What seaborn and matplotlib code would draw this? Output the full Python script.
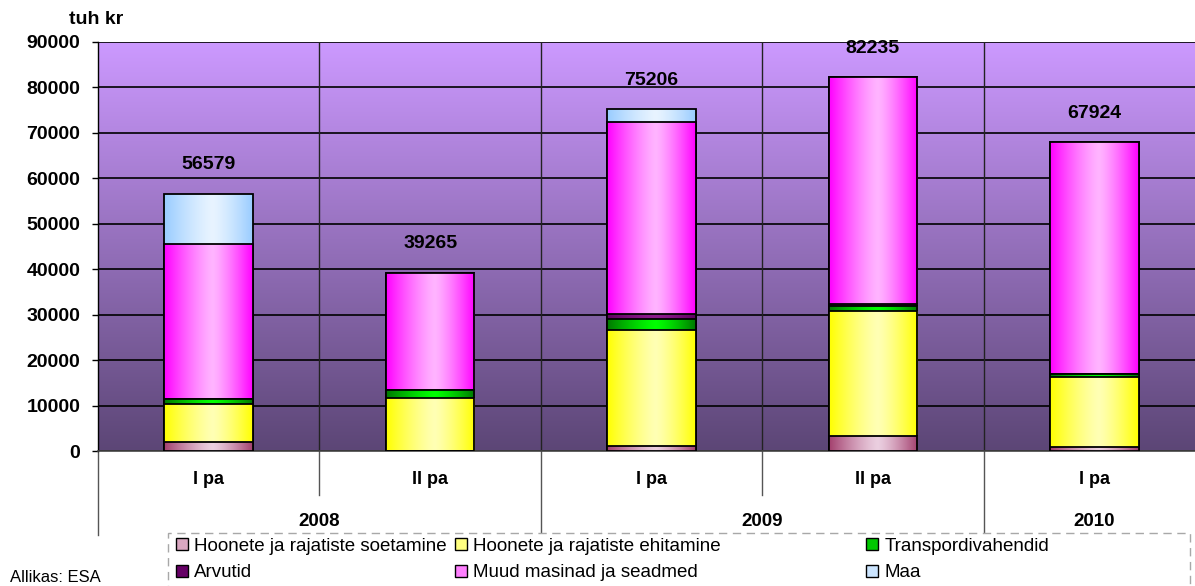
import numpy as np
import pandas as pd
import matplotlib
matplotlib.use("Agg")
import matplotlib.pyplot as plt
import matplotlib.transforms as mtrans
from matplotlib.colors import to_rgb
from matplotlib.patches import Patch, Rectangle
import seaborn as sns

# ---------------- data ----------------
periods = ["I pa", "II pa", "I pa", "II pa", "I pa"]
years = ["2008", "2008", "2009", "2009", "2010"]
categories = [f"{y} {p}" for y, p in zip(years, periods)]
totals = [56579, 39265, 75206, 82235, 67924]

series_names = ["Hoonete ja rajatiste soetamine", "Hoonete ja rajatiste ehitamine",
                "Transpordivahendid", "Arvutid", "Muud masinad ja seadmed", "Maa"]
soetamine = [1900, 0, 1200, 3300, 800]
ehitamine = [8400, 11600, 25400, 27500, 15500]
transport = [1100, 1800, 2450, 1200, 600]
arvutid = [100, 0, 1100, 400, 100]
muud = [34000, 25865, 42250, 49835, 50924]
maa = [11079, 0, 2806, 0, 0]
series_values = [soetamine, ehitamine, transport, arvutid, muud, maa]

# (edge colour, centre highlight colour)
series_colors = [("#A3406E", "#EBCFE0"),
                 ("#FFFF00", "#FFFFB4"),
                 ("#007800", "#00FF00"),
                 ("#600060", "#8C1C8C"),
                 ("#FF00FF", "#FFB4FF"),
                 ("#99CCFF", "#E8F4FF")]
legend_colors = ["#D9A7C1", "#FFFF80", "#00C800", "#660066", "#FF80FF", "#CCE5FF"]

y_ticks = list(range(0, 90001, 10000))

# ---------------- figure ----------------
W, H = 1195, 586
fig = plt.figure(figsize=(W / 100, H / 100), dpi=100)
fig.patch.set_facecolor("white")
ax_l, ax_r, ax_t, ax_b = 98, 1205, 42, 451
ax = fig.add_axes([ax_l / W, 1 - ax_b / H, (ax_r - ax_l) / W, (ax_b - ax_t) / H])
ax_h = ax_b - ax_t

plt.rcParams["font.family"] = ["Liberation Sans", "DejaVu Sans"]
FONT = ["Liberation Sans", "DejaVu Sans"]

# background gradient
top_c = np.array(to_rgb("#CC99FF"))
bot_c = np.array(to_rgb("#5C4676"))
t = np.linspace(0, 1, 256)[:, None]
bg = (top_c * (1 - t) + bot_c * t)[:, None, :]
ax.imshow(bg, extent=[0, 1, 0, 1], transform=ax.transAxes, aspect="auto",
          zorder=0, interpolation="bicubic")

# grid
for v in y_ticks:
    ax.axhline(v, color="black", lw=1.2, zorder=1)
for b in [0.5, 1.5, 2.5, 3.5]:
    ax.axvline(b, color="#222222", lw=1.0, zorder=1)

# stacked bars (cumulative, drawn from top layer down)
cum = np.cumsum(np.array(series_values, dtype=float), axis=0)
xs = np.linspace(0, 1, 200)


def grad_img(edge, centre):
    e = np.array(to_rgb(edge))
    c = np.array(to_rgb(centre))
    d = np.where(xs < 0.55, (0.55 - xs) / 0.55, (xs - 0.55) / 0.45)
    w = np.clip(d, 0, 1) ** 1.3
    row = c * (1 - w[:, None]) + e * w[:, None]
    return row[None, :, :]


for rank, k in enumerate(reversed(range(len(series_values)))):
    n0 = len(ax.patches)
    df = pd.DataFrame({"cat": categories, "val": cum[k]})
    sns.barplot(data=df, x="cat", y="val", order=categories, color=series_colors[k][0],
                width=0.4, errorbar=None, ax=ax, edgecolor="black", linewidth=1.3)
    z = 3 + rank
    img = grad_img(*series_colors[k])
    for p in ax.patches[n0:]:
        x0, y0 = p.get_x(), p.get_y()
        w_, h_ = p.get_width(), p.get_height()
        p.set_facecolor("none")
        p.set_zorder(z + 0.5)
        if h_ <= 0:
            continue
        im = ax.imshow(img, extent=[x0, x0 + w_, y0, y0 + h_], aspect="auto",
                       zorder=z, interpolation="bilinear")
        im.set_clip_path(p)

ax.set_xlim(-0.5, 4.5)
ax.set_ylim(0, 90000)

# total labels
for i, tot in enumerate(totals):
    ax.annotate(f"{tot}", (i, tot), xytext=(0, 21), textcoords="offset points",
                ha="center", va="center", fontsize=14, fontweight="bold",
                family=FONT, zorder=20)

# axes styling
ax.set_xlabel("")
ax.set_ylabel("")
ax.set_xticks([])
ax.set_yticks(y_ticks)
ax.set_yticklabels([str(v) for v in y_ticks], fontsize=14, fontweight="bold", family=FONT)
ax.tick_params(axis="y", length=4.3, width=1, color="black", pad=8.5, direction="out")
for s in ["top", "right"]:
    ax.spines[s].set_visible(False)
ax.spines["left"].set_color("black")
ax.spines["left"].set_linewidth(1.0)
ax.spines["bottom"].set_color("#444444")
ax.spines["bottom"].set_linewidth(1.2)

# category axis below
trans = mtrans.blended_transform_factory(ax.transData, ax.transAxes)
short_len = (495 - ax_b) / ax_h
long_len = (535 - ax_b) / ax_h
for b, L in [(-0.5, long_len), (0.5, short_len), (1.5, long_len), (2.5, short_len), (3.5, long_len)]:
    ax.plot([b, b], [0, -L], transform=trans, color="#555555", lw=1.0, clip_on=False)
for i, p in enumerate(periods):
    ax.text(i, -(480 - ax_b) / ax_h, p, transform=trans, ha="center", va="center",
            fontsize=13, fontweight="bold", family=FONT)
year_pos = {"2008": 0.5, "2009": 2.5, "2010": 4.0}
for yname, xp in year_pos.items():
    ax.text(xp, -(522 - ax_b) / ax_h, yname, transform=trans, ha="center", va="center",
            fontsize=13.5, fontweight="bold", family=FONT)

# unit label
fig.text(96 / W, 1 - 20 / H, "tuh kr", ha="center", va="center", fontsize=14,
         fontweight="bold", family=FONT)

# source text
fig.text(10 / W, 1 / H, "Allikas: ESA", ha="left", va="bottom", fontsize=12, family=FONT)

# legend frame
fig.patches.append(Rectangle((168 / W, -0.1), (1190 - 168) / W, 0.1 + 1 - 533 / H,
                             transform=fig.transFigure, fill=True, facecolor="white",
                             edgecolor="#A8A8A8", linestyle=(0, (6, 4)), lw=1.0, zorder=0))

handles = [Patch(facecolor=legend_colors[i], edgecolor="black", lw=1.0) for i in range(6)]
leg_kw = dict(frameon=False, handlelength=0.62, handleheight=0.62,
              handletextpad=0.35, labelspacing=0.5, borderpad=0, borderaxespad=0,
              loc="upper left", prop={"family": FONT, "size": 13.5})
order_a = [0, 3, 1, 4]
legA = fig.legend([handles[i] for i in order_a], [series_names[i] for i in order_a],
                  ncol=2, columnspacing=0.45, bbox_to_anchor=(176 / W, 1 - 538 / H),
                  **leg_kw)
legB = fig.legend([handles[2], handles[5]], [series_names[2], series_names[5]],
                  ncol=1, bbox_to_anchor=(866 / W, 1 - 538 / H), **leg_kw)

fig.savefig("out.png", dpi=100)
